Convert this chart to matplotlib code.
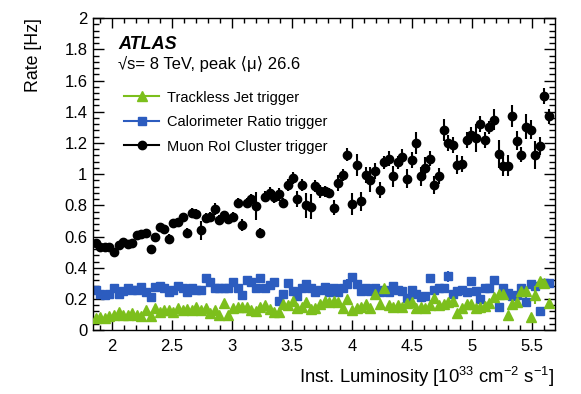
import numpy as np
import matplotlib
matplotlib.use('Agg')
import matplotlib.pyplot as plt
from matplotlib.lines import Line2D
from matplotlib.ticker import MultipleLocator, FuncFormatter

plt.rcParams['font.family'] = ['Liberation Sans', 'DejaVu Sans']
plt.rcParams['mathtext.default'] = 'regular'

# bin centres in inst. luminosity [1e33 cm-2 s-1]
lumi = np.linspace(1.867, 5.641, 100)

muon_rate = [0.56, 0.535, 0.535, 0.53, 0.50, 0.545, 0.565, 0.555, 0.56, 0.61,
             0.615, 0.625, 0.52, 0.60, 0.66, 0.65, 0.585, 0.69, 0.695, 0.725,
             0.625, 0.75, 0.745, 0.64, 0.72, 0.725, 0.775, 0.705, 0.735, 0.71,
             0.725, 0.815, 0.675, 0.815, 0.84, 0.795, 0.625, 0.855, 0.88, 0.855,
             0.87, 0.815, 0.93, 0.975, 0.84, 0.93, 0.80, 0.79, 0.925, 0.89,
             0.89, 0.88, 0.785, 0.945, 0.995, 1.125, 0.81, 1.06, 0.825, 0.995,
             0.965, 1.02, 0.90, 1.075, 1.10, 0.985, 1.075, 1.11, 0.97, 1.09,
             1.20, 0.985, 1.04, 1.10, 0.93, 0.99, 1.285, 1.20, 1.185, 1.06,
             1.065, 1.22, 1.25, 1.23, 1.32, 1.22, 1.30, 1.35, 1.13, 1.055,
             1.055, 1.37, 1.215, 1.125, 1.305, 1.285, 1.125, 1.18, 1.50, 1.37]
muon_err = [0.02, 0.015, 0.015, 0.015, 0.02, 0.015, 0.02, 0.02, 0.02, 0.025,
            0.02, 0.025, 0.015, 0.025, 0.025, 0.025, 0.03, 0.025, 0.025, 0.025,
            0.03, 0.03, 0.03, 0.06, 0.03, 0.03, 0.04, 0.03, 0.03, 0.03,
            0.03, 0.035, 0.04, 0.035, 0.035, 0.09, 0.03, 0.035, 0.04, 0.04,
            0.04, 0.035, 0.04, 0.04, 0.05, 0.04, 0.08, 0.08, 0.04, 0.04,
            0.035, 0.03, 0.05, 0.05, 0.04, 0.04, 0.07, 0.07, 0.06, 0.05,
            0.08, 0.05, 0.05, 0.04, 0.05, 0.07, 0.04, 0.05, 0.06, 0.05,
            0.07, 0.06, 0.07, 0.05, 0.06, 0.05, 0.07, 0.05, 0.05, 0.06,
            0.05, 0.05, 0.05, 0.09, 0.05, 0.05, 0.04, 0.07, 0.09, 0.07,
            0.07, 0.07, 0.06, 0.05, 0.08, 0.06, 0.09, 0.06, 0.05, 0.05]

calo_rate = [0.257, 0.23, 0.225, 0.23, 0.27, 0.23, 0.25, 0.27, 0.257, 0.257,
             0.277, 0.245, 0.21, 0.277, 0.283, 0.27, 0.245, 0.257, 0.283, 0.27,
             0.245, 0.27, 0.257, 0.257, 0.335, 0.31, 0.27, 0.27, 0.27, 0.27,
             0.31, 0.27, 0.225, 0.32, 0.31, 0.27, 0.335, 0.27, 0.29, 0.31,
             0.19, 0.23, 0.30, 0.25, 0.22, 0.27, 0.295, 0.27, 0.245, 0.257,
             0.277, 0.245, 0.27, 0.245, 0.27, 0.295, 0.34, 0.295, 0.25, 0.27,
             0.25, 0.27, 0.245, 0.257, 0.245, 0.28, 0.257, 0.25, 0.205, 0.257,
             0.23, 0.21, 0.22, 0.335, 0.257, 0.27, 0.27, 0.345, 0.23, 0.25,
             0.257, 0.245, 0.315, 0.25, 0.20, 0.27, 0.27, 0.32, 0.148, 0.27,
             0.237, 0.218, 0.225, 0.27, 0.18, 0.295, 0.283, 0.12, 0.30, 0.30]
calo_err = [0.01, 0.01, 0.01, 0.01, 0.01, 0.01, 0.01, 0.01, 0.01, 0.01,
            0.01, 0.01, 0.01, 0.01, 0.01, 0.01, 0.01, 0.01, 0.01, 0.01,
            0.01, 0.01, 0.01, 0.01, 0.01, 0.01, 0.01, 0.01, 0.01, 0.01,
            0.01, 0.01, 0.01, 0.01, 0.01, 0.01, 0.01, 0.01, 0.01, 0.01,
            0.015, 0.015, 0.015, 0.015, 0.015, 0.015, 0.015, 0.015, 0.015, 0.015,
            0.015, 0.015, 0.015, 0.015, 0.015, 0.03, 0.02, 0.015, 0.015, 0.015,
            0.015, 0.015, 0.015, 0.015, 0.015, 0.03, 0.015, 0.015, 0.015, 0.015,
            0.015, 0.015, 0.015, 0.025, 0.015, 0.015, 0.015, 0.035, 0.02, 0.02,
            0.02, 0.02, 0.025, 0.02, 0.02, 0.02, 0.02, 0.02, 0.02, 0.02,
            0.02, 0.02, 0.02, 0.02, 0.03, 0.02, 0.02, 0.02, 0.02, 0.02]

tj_rate = [0.077, 0.085, 0.077, 0.09, 0.10, 0.115, 0.10, 0.10, 0.11, 0.10,
           0.09, 0.13, 0.09, 0.14, 0.115, 0.13, 0.13, 0.115, 0.14, 0.13,
           0.135, 0.13, 0.15, 0.13, 0.14, 0.11, 0.13, 0.10, 0.175, 0.10,
           0.14, 0.15, 0.15, 0.15, 0.13, 0.12, 0.15, 0.16, 0.135, 0.115,
           0.115, 0.165, 0.16, 0.19, 0.14, 0.15, 0.18, 0.135, 0.14, 0.165,
           0.19, 0.18, 0.19, 0.18, 0.14, 0.20, 0.13, 0.14, 0.15, 0.165,
           0.14, 0.23, 0.165, 0.27, 0.16, 0.15, 0.16, 0.15, 0.175, 0.18,
           0.14, 0.15, 0.14, 0.16, 0.205, 0.16, 0.165, 0.18, 0.19, 0.11,
           0.14, 0.165, 0.165, 0.14, 0.15, 0.155, 0.175, 0.21, 0.23, 0.235,
           0.10, 0.165, 0.18, 0.25, 0.25, 0.085, 0.225, 0.315, 0.30, 0.175]
tj_err = [0.008] * 60 + [0.012] * 30 + [0.015, 0.015, 0.015, 0.02, 0.02, 0.015, 0.06, 0.02, 0.02, 0.02]

green = '#7cbf1c'
blue = '#2c5cbf'

fig = plt.figure(figsize=(5.81, 3.94), dpi=100)
ax = fig.add_axes([0.160, 0.162, 0.795, 0.792])

ax.errorbar(lumi, calo_rate, yerr=calo_err, fmt='s', color=blue, ms=5.5,
            elinewidth=1.5, capsize=0, zorder=2)
ax.errorbar(lumi, tj_rate, yerr=tj_err, fmt='^', color=green, ms=7,
            elinewidth=1.5, capsize=0, zorder=3)
ax.errorbar(lumi, muon_rate, yerr=muon_err, fmt='o', color='black', ms=6,
            elinewidth=1.5, capsize=0, zorder=4)

ax.set_xlim(1.845, 5.69)
ax.set_ylim(0, 2)

ax.xaxis.set_major_locator(MultipleLocator(0.5))
ax.xaxis.set_minor_locator(MultipleLocator(0.1))
ax.yaxis.set_major_locator(MultipleLocator(0.2))
ax.yaxis.set_minor_locator(MultipleLocator(0.04))
fmt = FuncFormatter(lambda v, p: ('%.1f' % v).rstrip('0').rstrip('.'))
ax.xaxis.set_major_formatter(fmt)
ax.yaxis.set_major_formatter(fmt)

ax.tick_params(which='both', direction='in', top=True, right=True, width=1, labelsize=12)
ax.tick_params(axis='x', which='major', length=7, pad=6)
ax.tick_params(axis='x', which='minor', length=3.5)
ax.tick_params(axis='y', which='major', length=8, pad=4)
ax.tick_params(axis='y', which='minor', length=4)
for s in ax.spines.values():
    s.set_linewidth(1)

ax.set_ylabel('Rate [Hz]', fontsize=12.8, loc='top', labelpad=16)
ax.set_xlabel(r'Inst. Luminosity [10$^{33}$ cm$^{-2}$ s$^{-1}$]', fontsize=13.3,
              loc='right', labelpad=8)

ax.text(0.054, 0.915, 'ATLAS', transform=ax.transAxes, fontsize=13,
        fontweight='bold', fontstyle='italic', va='center')
ax.text(0.054, 0.852, '\u221as= 8 TeV, peak \u27e8\u03bc\u27e9 26.6',
        transform=ax.transAxes, fontsize=12, va='center')

handles = [
    Line2D([], [], color=green, marker='^', ms=7, lw=1.5),
    Line2D([], [], color=blue, marker='s', ms=5.5, lw=1.5),
    Line2D([], [], color='black', marker='o', ms=6, lw=1.5),
]
labels = ['Trackless Jet trigger', 'Calorimeter Ratio trigger', 'Muon RoI Cluster trigger']
ax.legend(handles, labels, loc='upper left', bbox_to_anchor=(0.068, 0.768),
          frameon=False, fontsize=10.5, handlelength=2.35, labelspacing=0.72,
          handletextpad=0.6, borderaxespad=0, borderpad=0)

fig.savefig('out.png', dpi=100)
